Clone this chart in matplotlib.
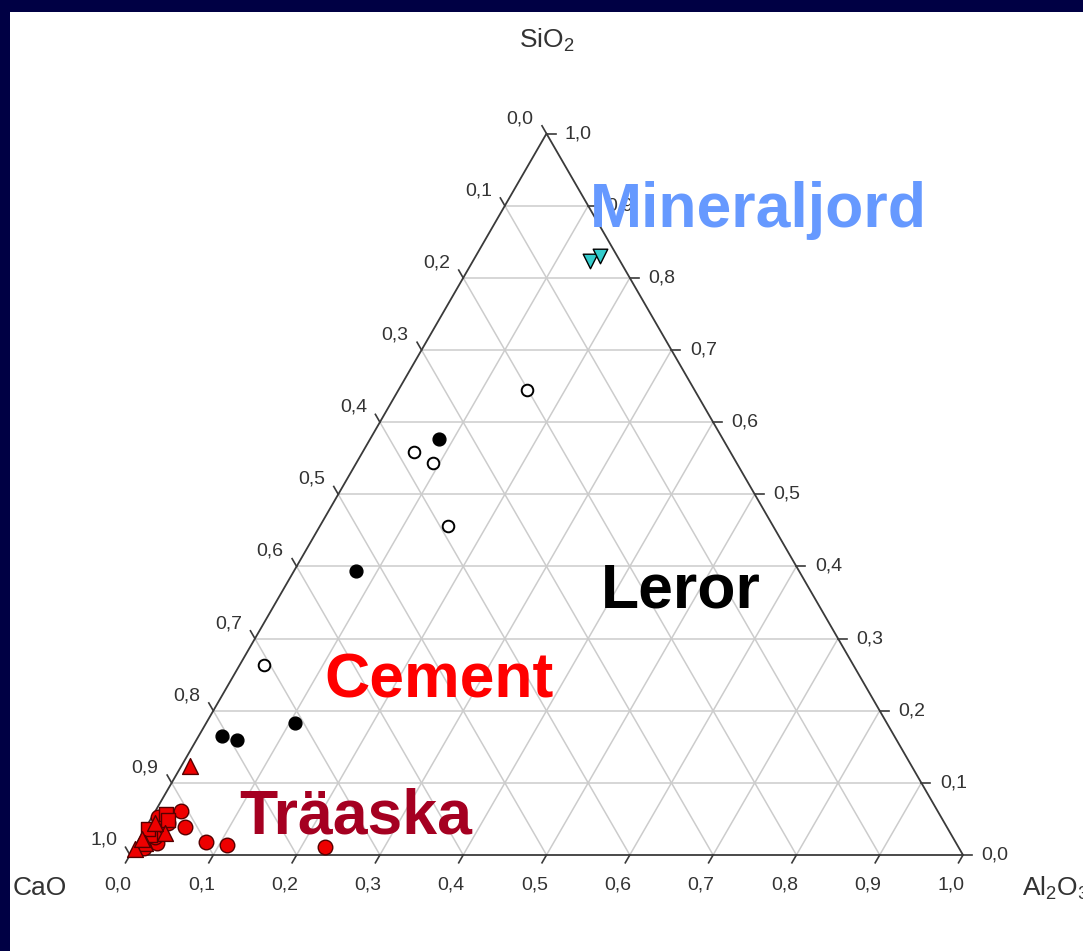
import numpy as np
import matplotlib
matplotlib.use("Agg")
import matplotlib.pyplot as plt
from matplotlib.patches import Rectangle
from matplotlib import font_manager

# ---------------- data (fractions: SiO2, Al2O3; CaO = 1 - SiO2 - Al2O3) ----------------
tick_values = [0.0, 0.1, 0.2, 0.3, 0.4, 0.5, 0.6, 0.7, 0.8, 0.9, 1.0]
tick_labels = ["0,0", "0,1", "0,2", "0,3", "0,4", "0,5", "0,6", "0,7", "0,8", "0,9", "1,0"]

mineral_sio2 = [0.824, 0.831]
mineral_al2o3 = [0.140, 0.149]

open_sio2 = [0.644, 0.558, 0.544, 0.456, 0.264]
open_al2o3 = [0.155, 0.062, 0.092, 0.154, 0.029]

clay_sio2 = [0.576, 0.393, 0.183, 0.165, 0.160]
clay_al2o3 = [0.083, 0.075, 0.106, 0.028, 0.048]

ash_tri_sio2 = [0.124, 0.031, 0.017, 0.008, 0.045, 0.022]
ash_tri_al2o3 = [0.010, 0.027, 0.010, 0.002, 0.008, 0.004]

ash_sq_sio2 = [0.057, 0.028, 0.048, 0.036]
ash_sq_al2o3 = [0.015, 0.010, 0.022, 0.004]

ash_circ_sio2 = [0.061, 0.039, 0.044, 0.0375, 0.031, 0.017, 0.018, 0.014, 0.011, 0.025, 0.010, 0.052]
ash_circ_al2o3 = [0.031, 0.047, 0.024, 0.014, 0.008, 0.024, 0.082, 0.109, 0.229, 0.018, 0.012, 0.008]

# ---------------- fonts ----------------
names = {f.name for f in font_manager.fontManager.ttflist}
narrow = "Liberation Sans Narrow" if "Liberation Sans Narrow" in names else "Liberation Sans"
plt.rcParams["font.family"] = [narrow, "DejaVu Sans"]
plt.rcParams["mathtext.default"] = "regular"

W, H = 1083, 951
S = 833.0  # pixels per data unit
R3 = np.sqrt(3) / 2


def tern(s, a):
    s = np.asarray(s, dtype=float)
    a = np.asarray(a, dtype=float)
    return a + s / 2.0, s * R3


def px(v):
    return v / S


fig = plt.figure(figsize=(W / 100, H / 100), dpi=100, facecolor="#000044")
fig.add_artist(Rectangle((10 / W, 0), 1.0, (H - 12) / H, transform=fig.transFigure,
                         facecolor="white", edgecolor="none", zorder=-1))
ax = fig.add_axes([0, 0, 1, 1])
ax.set_facecolor("none")
ax.set_xlim(-130 / S, (W - 130) / S)
ax.set_ylim((855 - H) / S, 855 / S)
ax.axis("off")

# grid
gcol = "#cccccc"
for v in tick_values[1:-1]:
    x, y = tern([v, v], [0, 1 - v])
    ax.plot(x, y, color=gcol, lw=1.1, zorder=1)
    x, y = tern([0, 1 - v], [v, v])
    ax.plot(x, y, color=gcol, lw=1.1, zorder=1)
    x, y = tern([0, 1 - v], [1 - v, 0])
    ax.plot(x, y, color=gcol, lw=1.1, zorder=1)

# triangle border
x, y = tern([0, 0, 1, 0], [0, 1, 0, 0])
ax.plot(x, y, color="#3a3a3a", lw=1.3, zorder=2)

L = px(9)
tcol = "#333333"
tfs = 14
for v, lab in zip(tick_values, tick_labels):
    bx, by = tern(0, v)
    ax.plot([bx, bx - 0.5 * L], [by, by - R3 * L], color="#3a3a3a", lw=1.2, zorder=2)
    ax.text(bx + px(-12), by + px(-30), lab, ha="center", va="center", fontsize=tfs, color=tcol)
    rx, ry = tern(v, 1 - v)
    ax.plot([rx, rx + L], [ry, ry], color="#3a3a3a", lw=1.2, zorder=2)
    ax.text(rx + px(32), ry, lab, ha="center", va="center", fontsize=tfs, color=tcol)
    lx, ly = tern(1 - v, 0)
    ax.plot([lx, lx - 0.5 * L], [ly, ly + R3 * L], color="#3a3a3a", lw=1.2, zorder=2)
    ax.text(lx + px(-26.5), ly + px(15), lab, ha="center", va="center", fontsize=tfs, color=tcol)

# vertex labels
vfs = 19
ax.text(0.5, px(855 - 40), "SiO$_2$", ha="center", va="center", fontsize=vfs, color=tcol)
ax.text(px(40 - 130), px(855 - 888), "CaO", ha="center", va="center", fontsize=vfs, color=tcol)
ax.text(px(1022 - 130), px(855 - 888), "Al$_2$O$_3$", ha="left", va="center", fontsize=vfs, color=tcol)

# markers
x, y = tern(mineral_sio2, mineral_al2o3)
ax.scatter(x, y, marker="v", s=110, facecolor="#33cccc", edgecolor="black", lw=1.0, zorder=5)
x, y = tern(open_sio2, open_al2o3)
ax.scatter(x, y, marker="o", s=70, facecolor="white", edgecolor="black", lw=1.4, zorder=5)
x, y = tern(clay_sio2, clay_al2o3)
ax.scatter(x, y, marker="o", s=85, facecolor="black", edgecolor="black", lw=1.0, zorder=5)
x, y = tern(ash_circ_sio2, ash_circ_al2o3)
ax.scatter(x, y, marker="o", s=110, facecolor="#ee0000", edgecolor="#550000", lw=1.0, zorder=5)
x, y = tern(ash_sq_sio2, ash_sq_al2o3)
ax.scatter(x, y, marker="s", s=110, facecolor="#ee0000", edgecolor="#550000", lw=1.0, zorder=6)
x, y = tern(ash_tri_sio2, ash_tri_al2o3)
ax.scatter(x, y, marker="^", s=130, facecolor="#ee0000", edgecolor="#550000", lw=1.0, zorder=6)

# group labels
bfs = 45
bold = dict(fontsize=bfs, fontweight="bold", family=["Liberation Sans", "DejaVu Sans"],
            ha="center", va="baseline", zorder=8)
ax.text(px(758 - 130), px(855 - 227), "Mineraljord", color="#6699ff", **bold)
ax.text(px(681 - 130), px(855 - 607), "Leror", color="black", **bold)
ax.text(px(439 - 130), px(855 - 697), "Cement", color="#ff0000", **bold)
ax.text(px(356 - 130), px(855 - 833), "Träaska", color="#a50021", **bold)

fig.savefig("out.png", dpi=100, facecolor=fig.get_facecolor())
